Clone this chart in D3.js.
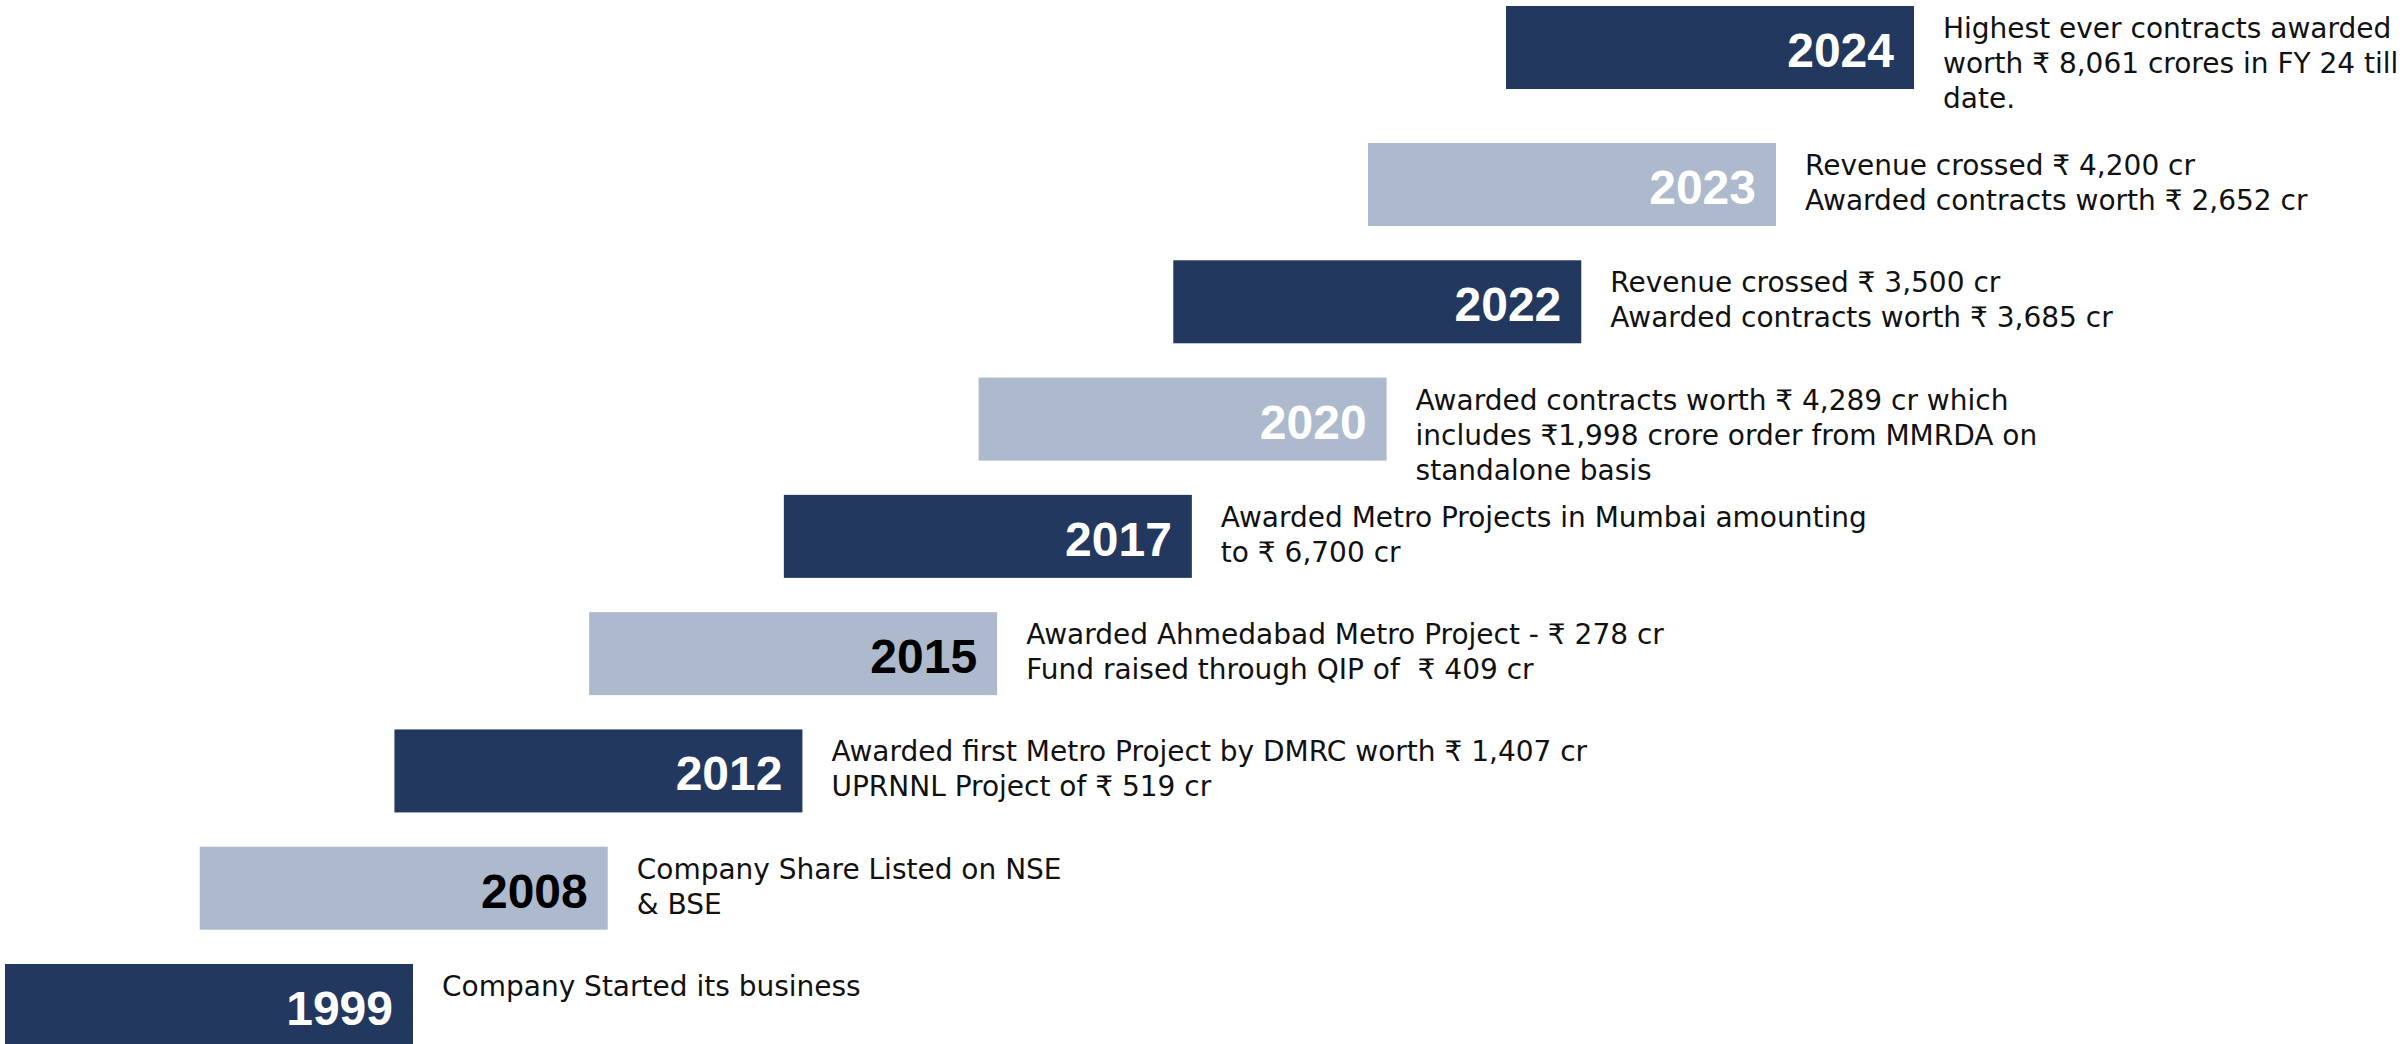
<!DOCTYPE html>
<html>
<head>
<meta charset="utf-8">
<script src="https://cdn.jsdelivr.net/npm/d3@7"></script>
<style>
  html, body { margin: 0; padding: 0; background: #ffffff; }
  svg { display: block; }
</style>
</head>
<body>
<div id="chart"></div>
<script>
// ---- data ----
const years = ["1999", "2008", "2012", "2015", "2017", "2020", "2022", "2023", "2024"];
const milestones = [
  ["Company Started its business"],
  ["Company Share Listed on NSE", "& BSE"],
  ["Awarded first Metro Project by DMRC worth \u20B9 1,407 cr", "UPRNNL Project of \u20B9 519 cr"],
  ["Awarded Ahmedabad Metro Project - \u20B9 278 cr", "Fund raised through QIP of  \u20B9 409 cr"],
  ["Awarded Metro Projects in Mumbai amounting", "to \u20B9 6,700 cr"],
  ["Awarded contracts worth \u20B9 4,289 cr which", "includes \u20B91,998 crore order from MMRDA on", "standalone basis"],
  ["Revenue crossed \u20B9 3,500 cr", "Awarded contracts worth \u20B9 3,685 cr"],
  ["Revenue crossed \u20B9 4,200 cr", "Awarded contracts worth \u20B9 2,652 cr"],
  ["Highest ever contracts awarded", "worth \u20B9 8,061 crores in FY 24 till", "date."]
];

// ---- styles ----
const boxColors = ["#22385F", "#ADB9CC"];           // alternate dark / light
const yearTextColors = ["#ffffff", "#000000", "#ffffff", "#000000", "#ffffff", "#ffffff", "#ffffff", "#ffffff", "#ffffff"];

// ---- layout ----
const W = 2407, H = 1044;
const boxW = 408, boxH = 83;
const margin = { top: 6, left: 5 };
const rightReserve = 493;      // room kept for the description of the last step
const lineGap = 35;

const n = years.length;
const idx = d3.range(n);

// staircase scales over step index
const xStep = d3.scaleLinear().domain([0, n - 2]).range([margin.left, 1368]);
const yStep = d3.scaleLinear().domain([0, n - 2]).range([964, 143]);

const boxLeft = i => Math.min(xStep(i), W - rightReserve - boxW);
const boxTop = i => (i === n - 1 ? margin.top : yStep(i));

const svg = d3.select("#chart").append("svg")
  .attr("width", W).attr("height", H)
  .attr("viewBox", `0 0 ${W} ${H}`);

const g = svg.selectAll("g.step")
  .data(idx)
  .join("g")
  .attr("class", "step")
  .attr("transform", i => `translate(${boxLeft(i)},${boxTop(i)})`);

g.append("rect")
  .attr("width", boxW)
  .attr("height", boxH)
  .attr("fill", i => boxColors[i % 2]);

g.append("text")
  .attr("x", boxW - 20)
  .attr("y", 61)
  .attr("text-anchor", "end")
  .attr("font-family", "'Liberation Sans', Arial, sans-serif")
  .attr("font-weight", "bold")
  .attr("font-size", 48)
  .attr("fill", i => yearTextColors[i])
  .text(i => years[i]);

const desc = g.append("text")
  .attr("x", boxW + 29)
  .attr("y", 32)
  .attr("font-family", "'DejaVu Sans', 'Noto Sans', sans-serif")
  .attr("font-size", 28)
  .attr("fill", "#111111")
  .style("white-space", "pre");

desc.selectAll("tspan")
  .data(i => milestones[i])
  .join("tspan")
  .attr("x", boxW + 29)
  .attr("dy", (d, j) => (j === 0 ? 0 : lineGap))
  .text(d => d);
</script>
</body>
</html>
